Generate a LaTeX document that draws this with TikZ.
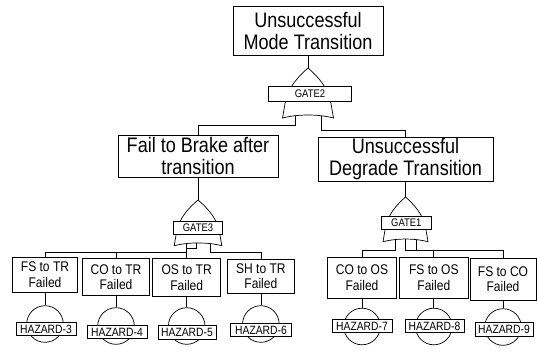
\documentclass[tikz,border=0pt]{standalone}
\usepackage{fontspec}
\setmainfont{Liberation Sans}[FakeStretch=0.86]
\begin{document}
\begin{tikzpicture}[x=1pt,y=-1pt,
  box/.style={draw, fill=white, line width=0.7pt, inner sep=0pt, align=center},
  bigtxt/.style={font=\fontsize{21}{21.5}\selectfont},
  smalltxt/.style={font=\fontsize{14}{15.5}\selectfont},
  glabel/.style={draw, fill=white, line width=0.7pt, inner sep=0pt, font=\fontsize{11}{12}\selectfont},
  hlabel/.style={draw, fill=white, line width=0.7pt, inner sep=0pt, font=\fontsize{12}{13}\selectfont, minimum height=13.4pt},
  hcirc/.style={draw, fill=white, circle, line width=0.7pt, inner sep=0pt, minimum size=36.6pt},
  wire/.style={line width=0.7pt},
  pics/orgate/.style 2 args={code={
    \draw[wire, fill=white] (0,0) .. controls (-0.35*#1,0.15*#2) and (-0.8*#1,0.4*#2) .. (-0.89*#1,0.68*#2)
      -- (-#1,#2) .. controls (-0.4*#1,0.92*#2) and (0.4*#1,0.92*#2) .. (#1,#2)
      -- (0.89*#1,0.68*#2) .. controls (0.8*#1,0.4*#2) and (0.35*#1,0.15*#2) .. (0,0) -- cycle;
  }}
]
\useasboundingbox (0,0) rectangle (537,353);

% event boxes
\node[box, font=\fontsize{21}{22}\selectfont, minimum width=150pt, minimum height=49pt] (top) at (308,30.5) {Unsuccessful\\Mode Transition};
\node[box, bigtxt, minimum width=160pt, minimum height=42pt] (fail) at (198,156) {Fail to Brake after\\transition};
\node[box, bigtxt, minimum width=175pt, minimum height=44pt] (degr) at (405.5,159) {Unsuccessful\\Degrade Transition};

\node[box, smalltxt, minimum width=64.6pt, minimum height=34.3pt] (fs) at (45,274.85) {FS to TR\\Failed};
\node[box, smalltxt, minimum width=66.6pt, minimum height=37pt] (co) at (116,277) {CO to TR\\Failed};
\node[box, smalltxt, minimum width=68pt, minimum height=38pt] (os) at (186.7,277.5) {OS to TR\\Failed};
\node[box, smalltxt, minimum width=66.3pt, minimum height=34pt] (sh) at (260.85,276) {SH to TR\\Failed};
\node[box, smalltxt, minimum width=69.4pt, minimum height=41pt] (cos) at (362,277.8) {CO to OS\\Failed};
\node[box, smalltxt, minimum width=69pt, minimum height=41pt] (fos) at (433.8,277.8) {FS to OS\\Failed};
\node[box, smalltxt, minimum width=66pt, minimum height=42pt] (fco) at (503,279) {FS to CO\\Failed};

% gate apexes and outputs
\coordinate (g2) at (308,68);
\coordinate (g3) at (198,200);
\coordinate (g1) at (405.5,197);
\coordinate (g2l) at (295,112);  \coordinate (b2l) at (295,125);
\coordinate (g2r) at (321,112);  \coordinate (b2r) at (321,130);
\coordinate (g3a) at (186.7,241); \coordinate (b3a) at (186.7,252.3);
\coordinate (g3b) at (196.7,241); \coordinate (b3b) at (196.7,248.3);
\coordinate (g3c) at (210,241);   \coordinate (b3c) at (210,252.3);
\coordinate (g1a) at (395,238);   \coordinate (b1a) at (395,250.3);
\coordinate (g1b) at (405,238);   \coordinate (b1b) at (405,250.3);
\coordinate (g1c) at (416.7,238); \coordinate (b1c) at (416.7,250.3);

% connectors
\draw[wire] (top.south) -- (g2);
\draw[wire] (g2l) -- (b2l) -| (fail.north);
\draw[wire] (g2r) -- (b2r) -| (degr.north);
\draw[wire] (fail.south) -- (g3);
\draw[wire] (degr.south) -- (g1);

\draw[wire] (g3a) -- (os.north);
\draw[wire] (b3a) -| (fs.north);
\draw[wire] (b3a) -| (co.north);
\draw[wire] (g3b) -- (b3b) -- (g3a |- b3b);
\draw[wire] (g3c) -- (b3c) -| (sh.north);

\draw[wire] (g1a) -- (b1a) -| (cos.north);
\draw[wire] (g1b) -- (b1b) -| (fco.north);
\draw[wire] (b1b) -| (fos.north);
\draw[wire] (g1c) -- (b1c);

% gates
\pic at (g2) {orgate={25.5}{50}};
\pic at (g3) {orgate={23.85}{45.7}};
\pic at (g1) {orgate={22.5}{44.7}};
\node[glabel, minimum width=83.4pt, minimum height=15pt] (g2t) at (310,94.2) {GATE2};
\node[glabel, minimum width=49.4pt, minimum height=13.3pt] (g3t) at (198,227.7) {GATE3};
\node[glabel, minimum width=49.3pt, minimum height=12.3pt] (g1t) at (406.3,222.9) {GATE1};

% hazards
\node[hcirc] (c3) at (45,324) {};
\node[hcirc] (c4) at (116,326) {};
\node[hcirc] (c5) at (186.7,326) {};
\node[hcirc] (c6) at (260.85,324) {};
\node[hcirc] (c7) at (362,326.5) {};
\node[hcirc] (c8) at (433.8,326.5) {};
\node[hcirc] (c9) at (503,327) {};
\draw[wire] (fs.south) -- (c3.north);
\draw[wire] (co.south) -- (c4.north);
\draw[wire] (os.south) -- (c5.north);
\draw[wire] (sh.south) -- (c6.north);
\draw[wire] (cos.south) -- (c7.north);
\draw[wire] (fos.south) -- (c8.north);
\draw[wire] (fco.south) -- (c9.north);
\node[hlabel, minimum width=60pt] (l3) at (46,329) {HAZARD-3};
\node[hlabel, minimum width=60pt] (l4) at (117,332) {HAZARD-4};
\node[hlabel, minimum width=58pt] (l5) at (187,332.5) {HAZARD-5};
\node[hlabel, minimum width=61pt] (l6) at (261,330) {HAZARD-6};
\node[hlabel, minimum width=60pt] (l7) at (362,326) {HAZARD-7};
\node[hlabel, minimum width=59pt] (l8) at (434.5,326) {HAZARD-8};
\node[hlabel, minimum width=58pt] (l9) at (504,329.5) {HAZARD-9};
\end{tikzpicture}
\end{document}
